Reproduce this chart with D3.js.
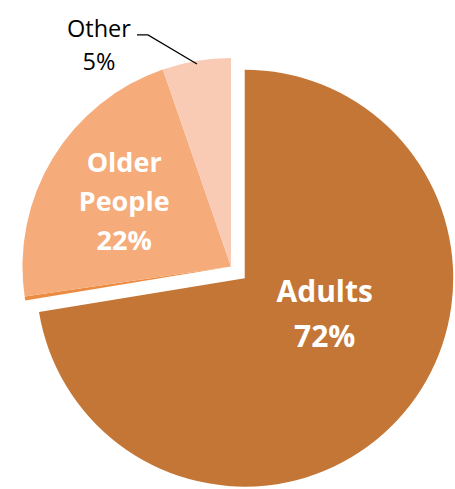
<!DOCTYPE html>
<html>
<head>
<meta charset="utf-8">
<script src="https://cdn.jsdelivr.net/npm/d3@7"></script>
<style>
  html, body { margin: 0; padding: 0; background: #fff; }
  svg { display: block; font-family: "Open Sans", sans-serif; }
</style>
</head>
<body>
<svg id="pie" width="455" height="489"></svg>
<script>
const CATEGORIES = ["Adults", "Unspecified", "Older People", "Other"];
const VALUES = [72.4, 0.3, 22.0, 5.3];
const LABELS = [["Adults", "72%"], [], ["Older", "People", "22%"], ["Other", "5%"]];

const COLORS = ["#C47636", "#EC8C42", "#F5AB7A", "#F9CBB5"];
const EXPLODE = [18, 0, 0, 0];

const CENTER = { x: 231, y: 266.5 };
const RADIUS = 208.5;

const svg = d3.select("#pie");
const g = svg.append("g").attr("transform", `translate(${CENTER.x},${CENTER.y})`);

const data = CATEGORIES.map((name, i) => ({ name, value: VALUES[i], i }));

const pie = d3.pie().sort(null).value((d) => d.value);
const arcs = pie(data);

const arc = d3.arc().innerRadius(0).outerRadius(RADIUS);

// offset of an exploded slice along its bisector
const shift = (d, dist) => {
  const a = (d.startAngle + d.endAngle) / 2;
  return [Math.sin(a) * dist, -Math.cos(a) * dist];
};

g.selectAll("path")
  .data(arcs)
  .join("path")
  .attr("d", arc)
  .attr("fill", (d) => COLORS[d.data.i])
  .attr("transform", (d) => {
    const [dx, dy] = shift(d, EXPLODE[d.data.i]);
    return `translate(${dx},${dy})`;
  });

// label styles per slice
const STYLE = {
  Adults: { size: 30, line: 45, color: "#fff", weight: "bold", r: 0.42, angle: 114 },
  "Older People": { size: 27, line: 39, color: "#fff", weight: "bold", r: 0.6 },
};

const writeLines = (x, cy, lines, s) => {
  const cap = s.size * 0.714;
  const first = cy - ((lines.length - 1) * s.line) / 2 + cap / 2;
  const t = g.append("text")
    .attr("text-anchor", "middle")
    .style("font-size", s.size + "px")
    .style("font-weight", s.weight)
    .style("fill", s.color);
  lines.forEach((ln, k) => {
    t.append("tspan").attr("x", x).attr("y", first + k * s.line).text(ln);
  });
};

arcs.forEach((d) => {
  const lines = LABELS[d.data.i];
  if (!lines.length) return;
  const s = STYLE[d.data.name];
  const [ox, oy] = shift(d, EXPLODE[d.data.i]);
  if (s) {
    const a = s.angle != null ? (s.angle * Math.PI) / 180 : (d.startAngle + d.endAngle) / 2;
    const x = ox + Math.sin(a) * RADIUS * s.r;
    const y = oy - Math.cos(a) * RADIUS * s.r;
    writeLines(x, y, lines, s);
  } else {
    // outside label with leader line
    const a = (d.startAngle + d.endAngle) / 2;
    const p0 = [Math.sin(a) * RADIUS * 0.985, -Math.cos(a) * RADIUS * 0.985];
    const elbow = [p0[0] - 49, p0[1] - 29];
    const end = [elbow[0] - 11, elbow[1]];
    g.append("path")
      .attr("d", d3.line()([p0, elbow, end]))
      .attr("fill", "none")
      .attr("stroke", "#000")
      .attr("stroke-width", 1.3);
    writeLines(end[0] - 38, end[1] + 10, lines,
      { size: 23.5, line: 33, color: "#000", weight: "normal" });
  }
});
</script>
</body>
</html>
